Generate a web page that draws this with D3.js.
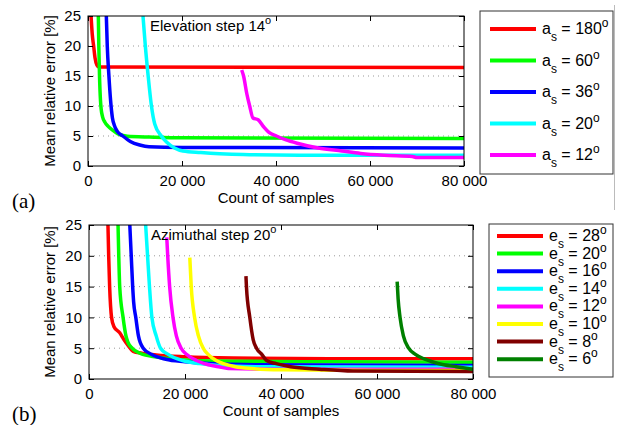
<!DOCTYPE html>
<html>
<head>
<meta charset="utf-8">
<script src="https://cdn.jsdelivr.net/npm/d3@7"></script>
<style>
body{margin:0;background:#fff}
text{font-family:"Liberation Sans",Arial,sans-serif;fill:#000}
</style>
</head>
<body>
<script>
// tick values shared by both panels
const xTicks=[0,20000,40000,60000,80000]
const yTicks=[0,5,10,15,20,25]
const gridTicks=[5,10,15,20]

// panel (a): azimuthal step a_s, elevation step 14
const aLabels=['180','60','36','20','12']
const aColors=['#ff0000','#00ff00','#0000ff','#00ffff','#ff00ff']
const a180=[[650,25],[900,22],[1200,20],[1500,18],[1900,16.8],[2300,16.5],[80000,16.4]]
const a60=[[2200,25],[2300,20],[2450,15],[2650,11],[2800,9.5],[3100,8.2],[3600,7.3],[4300,6.6],[5200,6],[6300,5.4],[7500,5.1],[9000,4.9],[12000,4.85],[14000,4.8],[20000,4.7],[80000,4.6]]
const a36=[[3900,25],[4100,20],[4450,15],[4800,11],[5200,8],[5600,6.8],[6200,5.8],[7400,5],[9000,4.1],[11000,3.5],[13000,3.2],[20000,3.1],[80000,3.0]]
const a20=[[11700,25],[12200,20],[12800,15],[13500,10],[14200,7],[15600,5],[16700,4],[18400,3],[20200,2.5],[24000,2.25],[28000,2.05],[33000,1.9],[45000,1.8],[80000,1.8]]
const a12=[[32700,16],[33100,15],[33800,12],[34400,10],[35100,8],[36200,7.7],[37400,6.5],[38500,5.6],[40100,5],[42000,4.4],[44500,3.8],[49000,3],[54000,2.5],[58000,2.1],[63000,1.8],[69000,1.6],[70000,1.4],[80000,1.4]]

// panel (b): elevation step e_s, azimuthal step 20
const eLabels=['28','20','16','14','12','10','8','6']
const eColors=['#ff0000','#00ff00','#0000ff','#00ffff','#ff00ff','#ffff00','#800000','#008000']
const e28=[[3950,25],[4100,20],[4300,15],[4700,10],[5200,8.5],[6400,7.5],[7200,6.5],[8100,5.5],[9200,4.5],[11000,4.2],[14000,3.9],[20000,3.6],[30000,3.4],[50000,3.3],[80000,3.3]]
const e20=[[6050,25],[6200,20],[6400,15],[7100,10],[7700,7],[8100,6],[9000,5],[9800,4.5],[11200,4],[13000,3.7],[17000,3.3],[22000,3],[30000,2.9],[50000,2.8],[80000,2.7]]
const e16=[[8500,25],[8800,20],[9100,15],[9300,12.5],[9750,10],[10300,7],[11300,5],[13000,4],[16000,3.2],[20000,2.8],[25000,2.5],[35000,2.3],[80000,2.2]]
const e14=[[11800,25],[12200,20],[12600,15],[13100,10],[14000,7],[14900,5],[16500,4],[19500,3],[23000,2.5],[27000,2.2],[35000,2],[80000,1.9]]
const e12=[[16200,23],[16400,20],[16800,15],[17500,10],[18200,7],[19200,5],[20300,4],[22400,3],[24000,2.5],[27000,2],[29000,1.7],[40000,1.6],[80000,1.6]]
const e10=[[21000,19.7],[21300,15],[22000,10],[22800,7],[23800,5],[24800,4],[26500,3],[28000,2.5],[30500,2],[34000,1.7],[40000,1.5],[60000,1.4],[80000,1.4]]
const e8=[[32700,16.7],[32800,15],[33500,10],[34200,6.4],[34900,5],[36000,4],[37000,3],[39000,2.5],[42000,2],[48000,1.6],[55000,1.3],[80000,1.2]]
const e6=[[64200,15.8],[64400,13],[64800,10],[65500,7],[66600,5],[68000,4],[69700,3.3],[71500,2.8],[73900,2.3],[76500,2],[80000,1.6]]

const fmt=d3.formatLocale({decimal:'.',thousands:' ',grouping:[3],currency:['','']}).format(',')

const svg=d3.select('body').append('svg').attr('width',618).attr('height',425)
svg.append('rect').attr('width',618).attr('height',425).attr('fill','#fff')

function drawPanel(p){
  let x=d3.scaleLinear().domain([0,80000]).range([p.left,p.right])
  let y=d3.scaleLinear().domain([0,25]).range([p.bottom,p.top])
  let g=svg.append('g')

  // dotted horizontal grid
  g.selectAll('.grid').data(gridTicks).enter().append('line')
    .attr('x1',p.left).attr('x2',p.right)
    .attr('y1',d=>y(d)).attr('y2',d=>y(d))
    .attr('stroke','#999').attr('stroke-width',1).attr('stroke-dasharray','1,4')

  // clipped curves
  g.append('clipPath').attr('id','clip'+p.id).append('rect')
    .attr('x',p.left).attr('y',p.top).attr('width',p.right-p.left).attr('height',p.bottom-p.top)
  let line=d3.line().x(d=>x(d[0])).y(d=>y(d[1])).curve(d3.curveMonotoneX)
  g.append('g').attr('clip-path','url(#clip'+p.id+')')
    .selectAll('path').data(p.series).enter().append('path')
    .attr('d',d=>line(d)).attr('fill','none')
    .attr('stroke',(d,i)=>p.colors[i]).attr('stroke-width',3.5)
    .attr('stroke-linejoin','round')

  // axes, ticks pointing inwards like matlab
  let ax=g.append('g').attr('transform','translate(0,'+p.bottom+')')
    .call(d3.axisBottom(x).tickValues(xTicks).tickFormat(fmt).tickSizeInner(-5).tickSizeOuter(0).tickPadding(9))
  ax.selectAll('text').attr('font-size',15)
  let ay=g.append('g').attr('transform','translate('+p.left+',0)')
    .call(d3.axisLeft(y).tickValues(yTicks).tickSizeInner(-5).tickSizeOuter(0).tickPadding(7))
  ay.selectAll('text').attr('font-size',15)
  g.append('g').attr('transform','translate(0,'+p.top+')')
    .call(d3.axisTop(x).tickValues(xTicks).tickFormat('').tickSizeInner(-5).tickSizeOuter(0))
  g.append('g').attr('transform','translate('+p.right+',0)')
    .call(d3.axisRight(y).tickValues(yTicks).tickFormat('').tickSizeInner(-5).tickSizeOuter(0))
  g.selectAll('.domain').remove()
  g.append('rect').attr('x',p.left).attr('y',p.top).attr('width',p.right-p.left).attr('height',p.bottom-p.top)
    .attr('fill','none').attr('stroke','#000').attr('stroke-width',1)

  // titles
  let t=g.append('text').attr('x',p.left+62).attr('y',p.top+15).attr('font-size',15).text(p.title)
  t.append('tspan').attr('font-size',11).attr('dy',-7).text('o')
  g.append('text').attr('x',(p.left+p.right)/2).attr('y',p.bottom+37).attr('text-anchor','middle')
    .attr('font-size',15).text('Count of samples')
  g.append('text').attr('transform','translate(55,'+(p.top+p.bottom)/2+') rotate(-90)')
    .attr('text-anchor','middle').attr('font-size',15).text('Mean relative error [%]')
  g.append('text').attr('x',12).attr('y',p.bottom+42)
    .style('font-family','"Liberation Serif","Times New Roman",serif').style('font-size','21px').text(p.tag)

  // legend
  let L=p.legend
  g.append('rect').attr('x',L.x).attr('y',L.y).attr('width',L.w).attr('height',L.h)
    .attr('fill','#fff').attr('stroke','#333').attr('stroke-width',1)
  let items=g.selectAll('.leg').data(p.labels).enter().append('g')
    .attr('transform',(d,i)=>'translate(0,'+(L.first+i*L.step)+')')
  items.append('line').attr('x1',L.x+L.lx).attr('x2',L.x+L.lx+46)
    .attr('stroke',(d,i)=>p.colors[i]).attr('stroke-width',4)
  let lt=items.append('text').attr('x',L.x+L.lx+52).attr('y',5).attr('font-size',16)
  lt.append('tspan').text(p.sym)
  lt.append('tspan').attr('font-size',12).attr('dy',7).text('s')
  lt.append('tspan').attr('dy',-7).text(d=>' = '+d)
  lt.append('tspan').attr('font-size',12).attr('dy',-7).text('o')
}

drawPanel({id:'a',left:88,right:464,top:16,bottom:166,tag:'(a)',title:'Elevation step 14',
  series:[a180,a60,a36,a20,a12],colors:aColors,labels:aLabels,sym:'a',
  legend:{x:480,y:11,w:133,h:163,first:29,step:31.5,lx:10}})
drawPanel({id:'b',left:89,right:473,top:225,bottom:379,tag:'(b)',title:'Azimuthal step 20',
  series:[e28,e20,e16,e14,e12,e10,e8,e6],colors:eColors,labels:eLabels,sym:'e',
  legend:{x:489,y:224,w:124,h:153,first:236,step:17.6,lx:8}})

// thin grey rule at the right edge of the upper figure
svg.append('line').attr('x1',614.5).attr('x2',614.5).attr('y1',5).attr('y2',210)
  .attr('stroke','#bbb').attr('stroke-width',1)
</script>
</body>
</html>
